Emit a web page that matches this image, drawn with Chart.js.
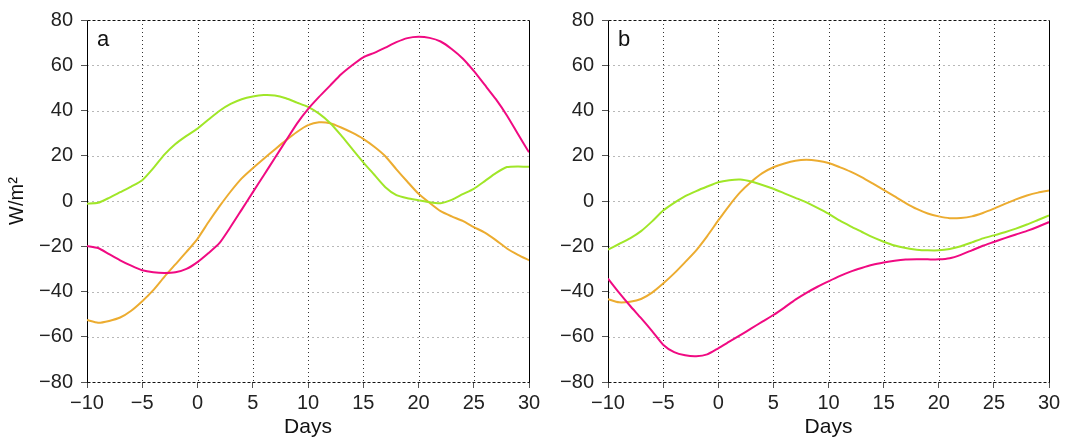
<!DOCTYPE html>
<html>
<head>
<meta charset="utf-8">
<script src="https://cdn.jsdelivr.net/npm/chart.js@4.4.1/dist/chart.umd.min.js"></script>
<style>
  body { margin: 0; background: #fff; }
  #wrap { position: relative; width: 1065px; height: 441px; }
  #chart-a { position: absolute; left: 0; top: 0; }
  #chart-b { position: absolute; left: 545px; top: 0; }
</style>
</head>
<body>
<div id="wrap">
  <canvas id="chart-a" width="545" height="441"></canvas>
  <canvas id="chart-b" width="520" height="441"></canvas>
</div>
<script>
const dias = [-10, -9, -8, -7, -6, -5, -4, -3, -2, -1, 0, 1, 2, 3, 4, 5, 6, 7, 8, 9, 10,
              11, 12, 13, 14, 15, 16, 17, 18, 19, 20, 21, 22, 23, 24, 25, 26, 27, 28, 29, 30];
const ticksX = [-10, -5, 0, 5, 10, 15, 20, 25, 30];
const ticksY = [-80, -60, -40, -20, 0, 20, 40, 60, 80];

// panel a
const verdeA = [-1.2, -0.8, 1.4, 3.9, 6.4, 9.2, 14.5, 20.5, 25.2, 28.8, 32, 36, 39.9, 42.9, 45, 46.2, 46.8, 46.6, 45.4, 43.5, 41.6,
                38.6, 34.5, 29, 23, 17.1, 11.6, 6.1, 2.6, 1.2, 0.3, -0.6, -1, 0.5, 3, 5.4, 8.8, 12.3, 15, 15.3, 15.1];
const naranjaA = [-52.6, -53.8, -53, -51.5, -48.5, -44.3, -39.4, -33.5, -28, -22.5, -16.7, -9.3, -2.3, 4.2, 10, 14.5, 18.7, 22.8, 26.8, 30.5, 33.5,
                  34.8, 34.4, 32.5, 30.2, 27.5, 24, 19.8, 14, 8.5, 3.2, -0.8, -4.5, -6.8, -8.8, -11.5, -14, -17.3, -21, -23.8, -26.2];
const magentaA = [-19.9, -20.8, -23.5, -26.2, -28.6, -30.6, -31.5, -31.8, -31.5, -30, -27, -23, -18.5, -11.4, -3.8, 3.8, 11.4, 19, 26.6, 34.2, 40.6,
                  46, 51, 56, 60, 63.5, 65.5, 67.8, 70.2, 72, 72.6, 72.1, 70.5, 67.2, 63, 57.5, 51.3, 45, 37.8, 29.6, 21.5];

// panel b
const verdeB = [-21.5, -19, -16.5, -13.3, -9, -4.2, -0.8, 2.2, 4.4, 6.4, 8.3, 9.2, 9.5, 8.6, 7.1, 5.4, 3.4, 1.4, -0.6, -3, -5.6,
                -8.6, -11.2, -13.6, -16, -18, -19.7, -20.8, -21.5, -21.8, -21.8, -21.2, -20, -18.3, -16.5, -15.2, -13.8, -12.2, -10.4, -8.4, -6.4];
const naranjaB = [-43.4, -44.8, -44.5, -43.3, -40.5, -36.5, -32, -27, -21.8, -15.5, -8.6, -2, 3.9, 8.5, 12.3, 14.9, 16.6, 17.8, 18.2, 17.8, 16.8,
                  15, 13, 10.6, 7.8, 4.9, 2, -0.9, -3.5, -5.5, -6.8, -7.6, -7.5, -6.8, -5.3, -3.4, -1.3, 0.7, 2.4, 3.7, 4.6];
const magentaB = [-34.3, -40.5, -46.3, -51.8, -57.5, -63.5, -66.8, -68.2, -68.6, -67.8, -65.1, -62.2, -59.3, -56.3, -53.3, -50.4, -47.1, -43.6, -40.6, -37.9, -35.5,
                  -33.2, -31.2, -29.6, -28.2, -27.2, -26.4, -25.9, -25.8, -25.8, -25.8, -25.3, -23.8, -21.8, -19.8, -18.1, -16.4, -14.8, -13.2, -11.4, -9.3];

const VERDE = 'rgb(160, 230, 40)';
const NARANJA = 'rgb(236, 172, 48)';
const MAGENTA = 'rgb(240, 10, 130)';
const FUENTE = "'Liberation Sans', Arial, sans-serif";

const menos = v => String(v).replace('-', '\u2212');

// grid punteado, marco y letra del panel
const marco = {
  id: 'marco',
  beforeDatasetsDraw(chart, args, opts) {
    const {ctx, chartArea: ca, scales: {x, y}} = chart;
    ctx.save();
    ctx.lineWidth = 1;
    ctx.strokeStyle = '#b8b8b8';
    ctx.setLineDash([2, 3]);
    ticksY.slice(1, -1).forEach(v => {
      const py = Math.round(y.getPixelForValue(v)) + 0.5;
      ctx.beginPath(); ctx.moveTo(ca.left, py); ctx.lineTo(ca.right, py); ctx.stroke();
    });
    ctx.strokeStyle = '#333';
    ctx.setLineDash([1, 3]);
    ticksX.slice(1, -1).forEach(v => {
      const px = Math.round(x.getPixelForValue(v)) + 0.5;
      ctx.beginPath(); ctx.moveTo(px, ca.top); ctx.lineTo(px, ca.bottom); ctx.stroke();
    });
    // arriba y abajo a rayas
    ctx.strokeStyle = '#111';
    ctx.setLineDash([3, 2]);
    const t = Math.round(ca.top) + 0.5, b = Math.round(ca.bottom) + 0.5;
    const l = Math.round(ca.left) + 0.5, r = Math.round(ca.right) + 0.5;
    ctx.beginPath(); ctx.moveTo(l, t); ctx.lineTo(r, t); ctx.stroke();
    ctx.beginPath(); ctx.moveTo(l, b); ctx.lineTo(r, b); ctx.stroke();
    ctx.setLineDash([]);
    ctx.strokeStyle = '#000';
    ctx.beginPath(); ctx.moveTo(l, t); ctx.lineTo(l, b); ctx.stroke();
    ctx.beginPath(); ctx.moveTo(r, t); ctx.lineTo(r, b); ctx.stroke();
    ctx.restore();
  },
  afterDraw(chart, args, opts) {
    const {ctx, chartArea: ca} = chart;
    ctx.save();
    ctx.fillStyle = '#111';
    ctx.font = '22px ' + FUENTE;
    ctx.textBaseline = 'alphabetic';
    ctx.fillText(opts.letra, ca.left + 10, 46);
    ctx.restore();
  }
};

const grafico = (id, letra, verde, naranja, magenta, anchoY, tituloY) => {
  const ctx = document.getElementById(id);
  const puntos = serie => dias.map((d, i) => ({x: d, y: serie[i]}));
  const linea = (serie, color) => ({
    data: puntos(serie),
    borderColor: color,
    borderWidth: 2,
    pointRadius: 0,
    tension: 0.2,
    fill: false
  });
  new Chart(ctx, {
    type: 'line',
    data: {
      datasets: [linea(magenta, MAGENTA), linea(verde, VERDE), linea(naranja, NARANJA)]
    },
    options: {
      responsive: false,
      animation: false,
      layout: { padding: { left: 0, right: 16, top: 19, bottom: 0 } },
      plugins: { legend: { display: false }, tooltip: { enabled: false }, marco: { letra: letra } },
      scales: {
        x: {
          type: 'linear', min: -10, max: 30,
          afterBuildTicks: s => { s.ticks = ticksX.map(v => ({value: v})); },
          afterFit: s => { s.height = 59; },
          grid: { drawOnChartArea: false, drawTicks: true, tickLength: 6, tickColor: '#555' },
          border: { display: false },
          ticks: { padding: 3, color: '#222', font: { family: FUENTE, size: 20 }, callback: menos, maxRotation: 0 },
          title: { display: true, text: 'Days', color: '#111', font: { family: FUENTE, size: 21 }, padding: { top: 0, bottom: 1 } }
        },
        y: {
          min: -80, max: 80,
          afterBuildTicks: s => { s.ticks = ticksY.map(v => ({value: v})); },
          afterFit: s => { s.width = anchoY; },
          grid: { drawOnChartArea: false, drawTicks: true, tickLength: 6, tickColor: '#555' },
          border: { display: false },
          ticks: { padding: 8, color: '#222', font: { family: FUENTE, size: 20 }, callback: menos },
          title: { display: tituloY, text: 'W/m\u00b2', color: '#111', font: { family: FUENTE, size: 20 }, padding: { top: 5, bottom: 0 } }
        }
      }
    },
    plugins: [marco]
  });
};

grafico('chart-a', 'a', verdeA, naranjaA, magentaA, 87, true);
grafico('chart-b', 'b', verdeB, naranjaB, magentaB, 63, false);
</script>
</body>
</html>
